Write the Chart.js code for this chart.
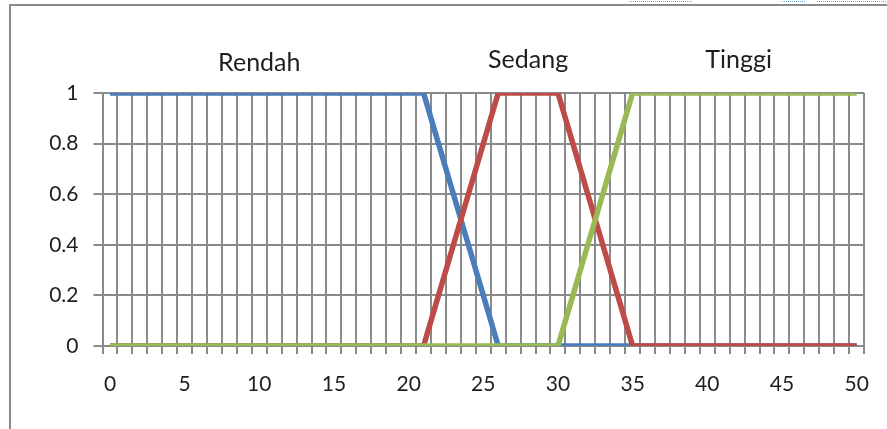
<!DOCTYPE html>
<html>
<head>
<meta charset="utf-8">
<script src="https://cdn.jsdelivr.net/npm/chart.js@4/dist/chart.umd.min.js"></script>
<style>
  html, body { margin: 0; padding: 0; background: #fff; }
  #wrap { width: 887px; height: 429px; position: relative; }
</style>
</head>
<body>
<div id="wrap"><canvas id="c" width="887" height="429"></canvas></div>
<script>
// ---- data ----
const categories = ['0','1','2','3','4','5','6','7','8','9','10','11','12','13','14','15','16','17','18','19','20',
  '21','22','23','24','25','26','27','28','29','30','31','32','33','34','35','36','37','38','39','40',
  '41','42','43','44','45','46','47','48','49','50'];
const rendah = [1,1,1,1,1,1,1,1,1,1,1,1,1,1,1,1,1,1,1,1,1,1,
  0.8,0.6,0.4,0.2,
  0,0,0,0,0,0,0,0,0,0,0,0,0,0,0,0,0,0,0,0,0,0,0,0,0];
const sedang = [0,0,0,0,0,0,0,0,0,0,0,0,0,0,0,0,0,0,0,0,0,0,
  0.2,0.4,0.6,0.8,
  1,1,1,1,1,
  0.8,0.6,0.4,0.2,
  0,0,0,0,0,0,0,0,0,0,0,0,0,0,0,0];
const tinggi = [0,0,0,0,0,0,0,0,0,0,0,0,0,0,0,0,0,0,0,0,0,0,0,0,0,0,0,0,0,0,0,
  0.2,0.4,0.6,0.8,
  1,1,1,1,1,1,1,1,1,1,1,1,1,1,1,1];
const yTickValues = [0, 0.2, 0.4, 0.6, 0.8, 1];
const xLabelStep = 5;
const setNames = ['Rendah', 'Sedang', 'Tinggi'];
const setAnchors = [10, 28, 42.1];   // category positions of the set names

// ---- styles ----
const gridColor = '#8a8a8a';
const textColor = '#1e1e1e';
const fontFamily = 'Lato, "Open Sans", sans-serif';

const setLabelPlugin = {
  id: 'setLabels',
  afterDraw(chart) {
    const ctx = chart.ctx;
    const xs = chart.scales.x, ys = chart.scales.y;
    const top = ys.getPixelForValue(1);
    const lift = [22, 25, 25];
    ctx.save();
    ctx.font = '25px ' + fontFamily;
    ctx.fillStyle = textColor;
    ctx.textAlign = 'center';
    ctx.textBaseline = 'alphabetic';
    setNames.forEach((n, i) => {
      ctx.fillText(n, xs.getPixelForValue(setAnchors[i]), top - lift[i]);
    });
    ctx.restore();
  }
};

const framePlugin = {
  id: 'frame',
  beforeDraw(chart) {
    const ctx = chart.ctx;
    ctx.save();
    ctx.fillStyle = '#fff';
    ctx.fillRect(0, 0, chart.width, chart.height);
    ctx.strokeStyle = '#8a8a8a';
    ctx.lineWidth = 2;
    ctx.beginPath();
    ctx.moveTo(10, 429);
    ctx.lineTo(10, 5);
    ctx.lineTo(887, 5);
    ctx.stroke();
    // faint dotted marks along the top edge
    ctx.strokeStyle = '#6fa6d4';
    ctx.lineWidth = 1;
    ctx.setLineDash([1, 1]);
    [[629, 692], [782, 805], [817, 887]].forEach(([a, b]) => {
      ctx.beginPath(); ctx.moveTo(a, 1.5); ctx.lineTo(b, 1.5); ctx.stroke();
    });
    ctx.restore();
  }
};

function build() {
  new Chart(document.getElementById('c'), {
    type: 'line',
    data: {
      labels: categories,
      datasets: [
        { label: 'Rendah', data: rendah, borderColor: '#4a7ebb', order: 2 },
        { label: 'Sedang', data: sedang, borderColor: '#be4b48', order: 1 },
        { label: 'Tinggi', data: tinggi, borderColor: '#98b954', order: 0 }
      ].map(d => Object.assign(d, {
        borderWidth: 5.5, pointRadius: 0, tension: 0, fill: false,
        borderJoinStyle: 'round', borderCapStyle: 'butt'
      }))
    },
    options: {
      responsive: false,
      animation: false,
      devicePixelRatio: 1,
      layout: { padding: { left: 20, right: 19.5, top: 93, bottom: 31 } },
      plugins: { legend: { display: false }, tooltip: { enabled: false } },
      scales: {
        x: {
          type: 'category',
          offset: true,
          grid: { offset: true, color: gridColor, lineWidth: 2, tickLength: 8, drawTicks: true },
          border: { color: gridColor, width: 2 },
          ticks: {
            autoSkip: false, maxRotation: 0, padding: 18,
            color: textColor, font: { family: fontFamily, size: 21 },
            callback: (v, i) => (i % xLabelStep === 0 ? categories[i] : '')
          },
          afterFit(s) { s.height = 52; }
        },
        y: {
          min: 0, max: 1,
          afterBuildTicks(s) { s.ticks = yTickValues.map(v => ({ value: v })); },
          grid: { color: gridColor, lineWidth: 2, tickLength: 9 },
          border: { color: gridColor, width: 2 },
          ticks: {
            padding: 15, color: textColor, font: { family: fontFamily, size: 21 },
            callback: v => String(Math.round(v * 10) / 10)
          },
          afterFit(s) { s.width = 82.5; }
        }
      }
    },
    plugins: [framePlugin, setLabelPlugin]
  });
}

if (document.fonts && document.fonts.load) {
  document.fonts.load('21px Lato').then(build, build);
} else {
  build();
}
</script>
</body>
</html>
